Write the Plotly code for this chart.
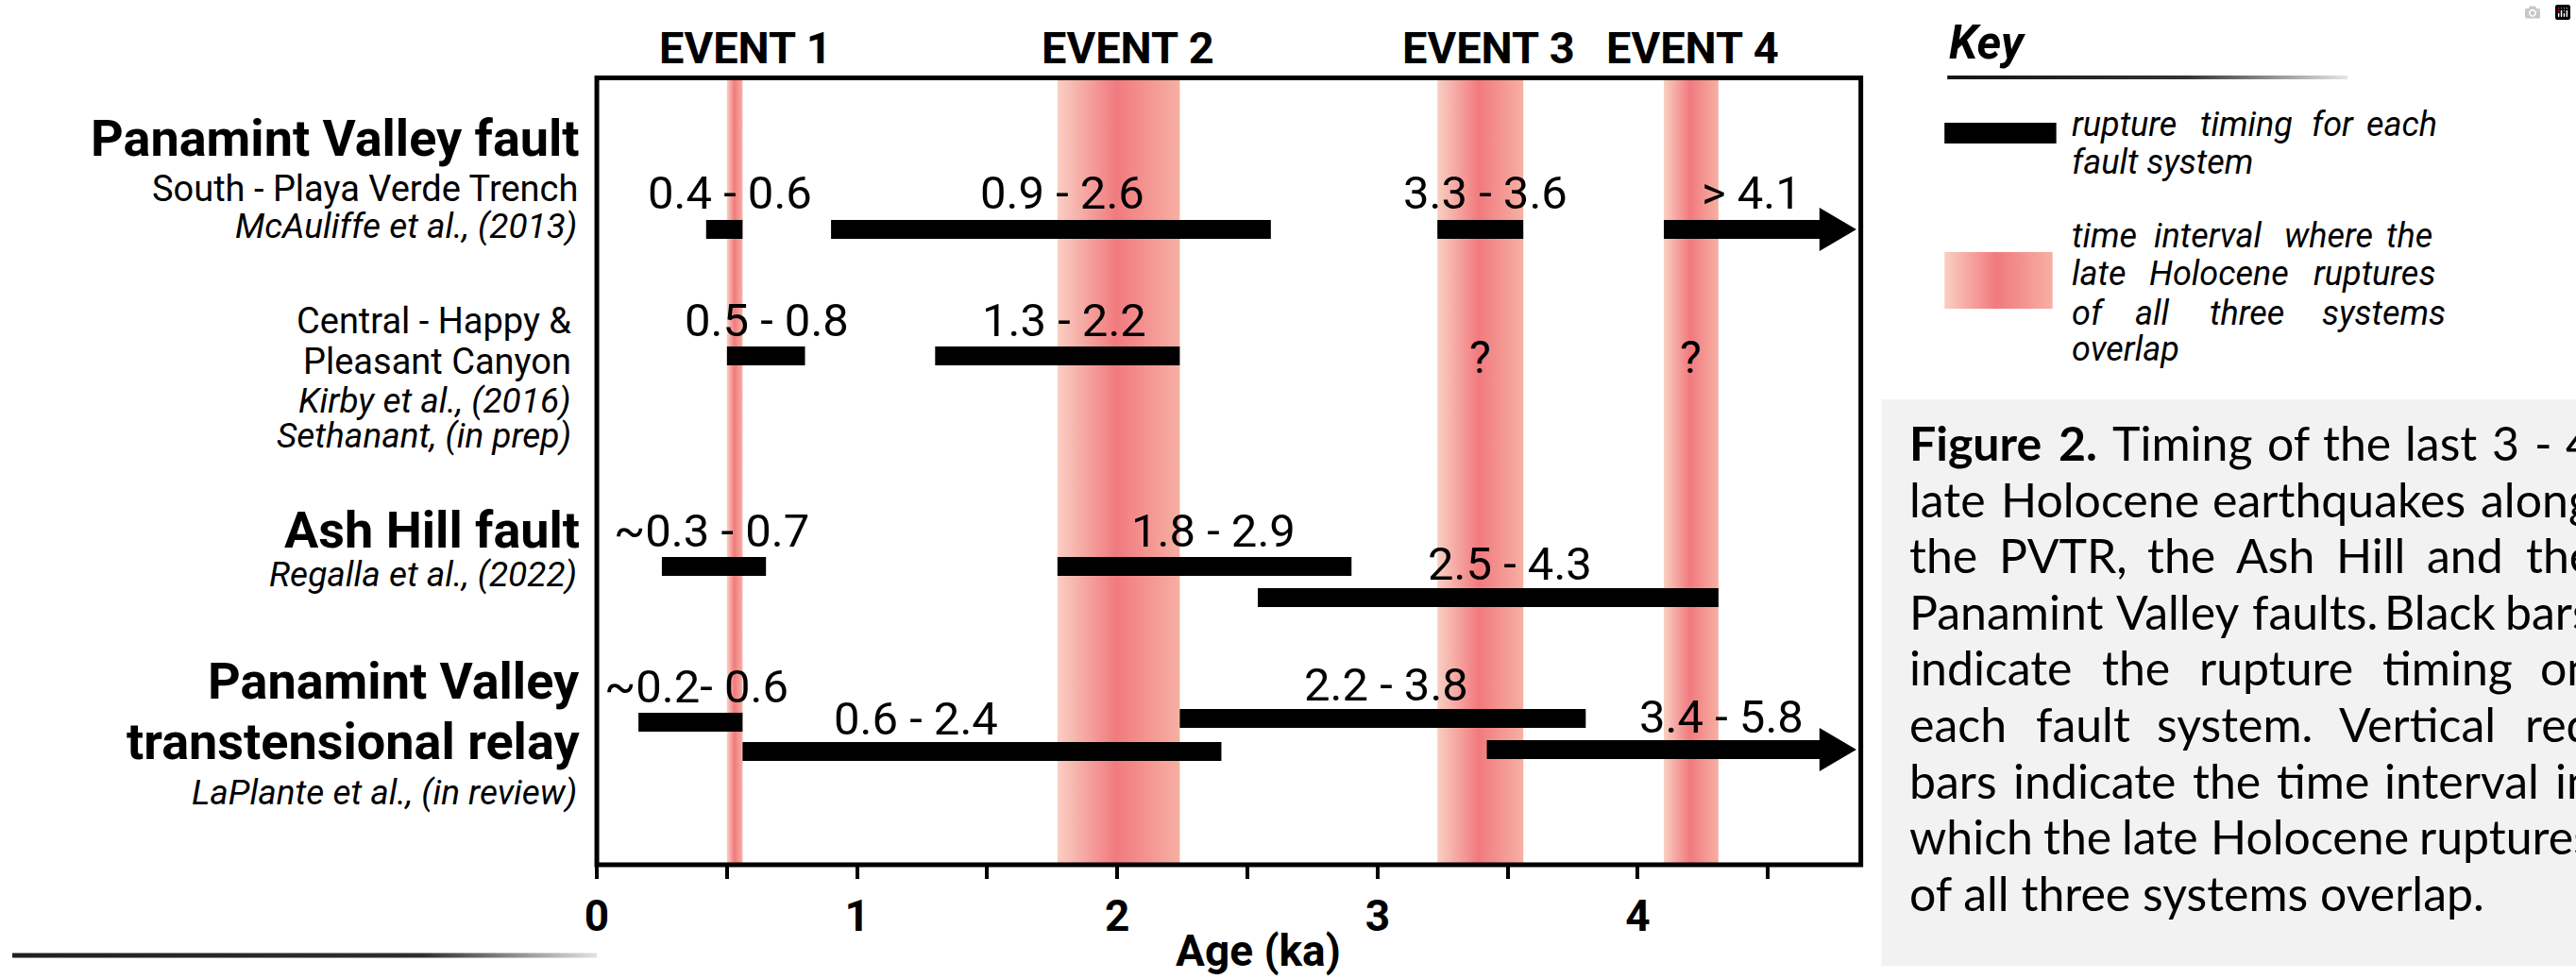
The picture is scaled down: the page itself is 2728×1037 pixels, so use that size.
import plotly.graph_objects as go

# ---------------- data ----------------
events = ["EVENT 1", "EVENT 2", "EVENT 3", "EVENT 4"]
event_start = [0.50, 1.77, 3.23, 4.10]
event_end = [0.56, 2.24, 3.56, 4.31]

rupture_label = ["0.4 - 0.6", "0.9 - 2.6", "3.3 - 3.6", "> 4.1",
                 "0.5 - 0.8", "1.3 - 2.2",
                 "~0.3 - 0.7", "1.8 - 2.9", "2.5 - 4.3",
                 "~0.2- 0.6", "0.6 - 2.4", "2.2 - 3.8", "3.4 - 5.8"]
rupture_start = [0.42, 0.90, 3.23, 4.10, 0.50, 1.30, 0.25, 1.77, 2.54, 0.16, 0.56, 2.24, 3.42]
rupture_end = [0.56, 2.59, 3.56, None, 0.80, 2.24, 0.65, 2.90, 4.31, 0.56, 2.40, 3.80, None]
unknown_event = ["EVENT 3", "EVENT 4"]          # "?" on the central Panamint Valley row

row_labels = ["Panamint Valley fault", "South - Playa Verde Trench", "McAuliffe et al., (2013)",
              "Central - Happy &", "Pleasant Canyon", "Kirby et al., (2016)", "Sethanant, (in prep)",
              "Ash Hill fault", "Regalla et al., (2022)",
              "Panamint Valley", "transtensional relay", "LaPlante et al., (in review)"]

x_ticks = [0, 0.5, 1, 1.5, 2, 2.5, 3, 3.5, 4, 4.5]
x_ticktext = ["0", "", "1", "", "2", "", "3", "", "4", ""]
x_title = "Age (ka)"

key_title = "Key"
key_lines = [["rupture", "timing", "for", "each"], ["fault system"],
             ["time", "interval", "where", "the"], ["late", "Holocene", "ruptures"],
             ["of", "all", "three", "systems"], ["overlap"]]
caption_lines = ["Figure 2. Timing of the last 3 - 4",
                 "late Holocene earthquakes along",
                 "the PVTR, the Ash Hill and the",
                 "Panamint Valley faults. Black bars",
                 "indicate the rupture timing on",
                 "each fault system. Vertical red",
                 "bars indicate the time interval in",
                 "which the late Holocene ruptures",
                 "of all three systems overlap."]

# ---------------- layout / positions ----------------
W, H = 2728, 1037
PX0, PX1 = 622.0, 1967.0
PY0, PY1 = 82.5, 916.0
X_MAX = 4.857
BAR_HALF = 10
ARROW_TIP, ARROW_HEAD_LEN, ARROW_HALF = 4.84, 0.142, 23
lane_y = [243, 243, 243, 243, 377, 377, 600, 600, 633, 765, 796, 761, 794]
label_x = [0.513, 1.79, 3.416, 4.438, 0.652, 1.796, 0.44, 2.37, 3.507, 0.383, 1.227, 3.032, 4.323]
label_base = [222, 222, 222, 222, 357, 357, 580, 580, 615, 745, 779, 743, 777]
unknown_base = 396
event_label_x = [0.573, 2.04, 3.426, 4.209]
event_label_base = 68
row_style = [("bold", "normal", 54, 605, 166), ("normal", "normal", 38, 603, 214),
             ("normal", "italic", 37, 602, 253), ("normal", "normal", 38, 596, 354),
             ("normal", "normal", 38, 596, 397), ("normal", "italic", 37, 596, 438),
             ("normal", "italic", 37, 596, 475), ("bold", "normal", 54, 605, 581),
             ("normal", "italic", 37, 602, 622), ("bold", "normal", 54, 605, 741),
             ("bold", "normal", 54, 605, 805), ("normal", "italic", 37, 602, 853)]
key_base = [145, 185, 263, 303, 345, 383]
key_x = [[2190, 2327, 2446, 2504], [2190], [2190, 2278, 2417, 2525], [2190, 2273, 2448],
         [2190, 2258, 2337, 2457], [2190]]
CAP_L, CAP_R, CAP_SIZE = 2018, 2745, 50
cap_base = [489.5, 549, 608.6, 668.2, 727.8, 787.4, 847, 906.6, 966.2]

FONT = "Roboto"
CAP_FONT = "Lato"
DESC = {"Roboto": 0.244, "Lato": 0.213}
BAND_CS = [[0, "#f9cfc2"], [0.48, "#f17a7e"], [1, "#f6b0a3"]]

# approximate Lato advance widths (em) used to justify the caption lines
LATO_W = dict(a=.52, b=.56, c=.47, d=.56, e=.53, f=.32, g=.5, h=.56, i=.24, j=.24, k=.5,
              l=.24, m=.84, n=.56, o=.56, p=.56, q=.56, r=.36, s=.42, t=.34, u=.56, v=.5,
              w=.76, x=.49, y=.5, z=.45, A=.68, B=.64, C=.66, D=.74, E=.56, F=.55, G=.72,
              H=.75, I=.28, P=.6, R=.63, T=.58, V=.66)
LATO_W.update({".": .22, ",": .22, "-": .35, " ": .193})
for d_ in "0123456789":
    LATO_W[d_] = .58


def lato_width(word, size, bold=False):
    return sum(LATO_W.get(c, .55) for c in word) * size * (1.04 if bold else 1.0)


fig = go.Figure()

# red overlap bands (horizontal gradient)
for s, e in zip(event_start, event_end):
    fig.add_trace(go.Scatter(x=[s, e, e, s, s], y=[PY0, PY0, PY1, PY1, PY0], mode="lines",
                             line=dict(width=0), fill="toself",
                             fillgradient=dict(type="horizontal", colorscale=BAND_CS),
                             hoverinfo="skip", xaxis="x", yaxis="y"))

# black rupture bars (and arrows for open-ended ranges)
bx, by = [], []
for s, e, yl in zip(rupture_start, rupture_end, lane_y):
    x1 = e if e is not None else ARROW_TIP - ARROW_HEAD_LEN
    bx += [s, x1, x1, s, s, None]
    by += [yl - BAR_HALF, yl - BAR_HALF, yl + BAR_HALF, yl + BAR_HALF, yl - BAR_HALF, None]
    if e is None:
        hb = ARROW_TIP - ARROW_HEAD_LEN
        bx += [hb, ARROW_TIP, hb, hb, None]
        by += [yl - ARROW_HALF, yl, yl + ARROW_HALF, yl - ARROW_HALF, None]
fig.add_trace(go.Scatter(x=bx, y=by, mode="lines", line=dict(width=0, color="black"),
                         fill="toself", fillcolor="black", hoverinfo="skip",
                         xaxis="x", yaxis="y"))


# decorative items in pixel space (x2/y2)
def grad_rect(x0, x1, y0, y1, cs):
    fig.add_trace(go.Scatter(x=[x0, x1, x1, x0, x0], y=[y0, y0, y1, y1, y0], mode="lines",
                             line=dict(width=0), fill="toself",
                             fillgradient=dict(type="horizontal", colorscale=cs),
                             hoverinfo="skip", xaxis="x2", yaxis="y2"))


grad_rect(0, 622, 1009.5, 1014.5, [[0, "#231f20"], [0.7, "#2e2e2e"], [1, "#e2e2e2"]])
grad_rect(2059, 2485, 80, 84, [[0, "#151515"], [0.6, "#333333"], [1, "#e6e6e6"]])
grad_rect(2056, 2171, 267, 327, BAND_CS)

shapes = [
    dict(type="rect", xref="x2", yref="y2", x0=1989, x1=2728, y0=423, y1=1023,
         fillcolor="#f2f2f2", line=dict(width=0), layer="below"),
    dict(type="rect", xref="x2", yref="y2", x0=2056, x1=2175, y0=130, y1=152,
         fillcolor="black", line=dict(width=0)),
    dict(type="rect", xref="x2", yref="y2", x0=PX0, x1=PX1, y0=PY0, y1=PY1,
         fillcolor="rgba(0,0,0,0)", line=dict(width=5, color="black"), layer="above"),
]


def txt(text, x, base, size, xref="x2", yref="y2", xanchor="center", weight="normal",
        style="normal", family=FONT):
    return dict(text=text, x=x, y=base + DESC[family] * size, xref=xref, yref=yref,
                xanchor=xanchor, yanchor="bottom", showarrow=False, borderpad=0,
                font=dict(family=family, size=size, color="black", weight=weight, style=style))


ann = []
for lab, lx, lb in zip(rupture_label, label_x, label_base):
    ann.append(txt(lab, lx, lb, 49, xref="x", yref="y"))
for ev in unknown_event:
    i = events.index(ev)
    ann.append(txt("?", (event_start[i] + event_end[i]) / 2, unknown_base, 48, xref="x", yref="y"))
for ev, ex in zip(events, event_label_x):
    ann.append(txt(ev, ex, event_label_base, 47, xref="x", yref="y2", weight="bold"))
for lab, (wt, st, sz, rx, bl) in zip(row_labels, row_style):
    ann.append(txt(lab, rx, bl, sz, xanchor="right", weight=wt, style=st))
ann.append(txt(x_title, 1325.5, 1024, 46, weight="bold"))
ann.append(txt(key_title, 2060, 63, 49, xanchor="left", weight="bold", style="italic"))
for words, xs, bl in zip(key_lines, key_x, key_base):
    for w_, x_ in zip(words, xs):
        ann.append(txt(w_, x_, bl, 36, xanchor="left", style="italic"))

# justified caption (last line left-aligned)
for li, (line, bl) in enumerate(zip(caption_lines, cap_base)):
    if li == len(caption_lines) - 1:
        ann.append(txt(line, CAP_L, bl, CAP_SIZE, xanchor="left", family=CAP_FONT))
        continue
    words = line.split(" ")
    bolds = [li == 0 and wi < 2 for wi in range(len(words))]
    widths = [lato_width(w_, CAP_SIZE, b_) for w_, b_ in zip(words, bolds)]
    gap = (CAP_R - CAP_L - sum(widths)) / (len(words) - 1)
    x_ = CAP_L
    for w_, b_, wd in zip(words, bolds, widths):
        ann.append(txt(w_, x_, bl, CAP_SIZE, xanchor="left",
                       weight="bold" if b_ else "normal", family=CAP_FONT))
        x_ += wd + gap

fig.update_layout(
    width=W, height=H, margin=dict(l=0, r=0, t=0, b=0),
    paper_bgcolor="white", plot_bgcolor="rgba(0,0,0,0)", showlegend=False,
    xaxis=dict(domain=[PX0 / W, PX1 / W], range=[0, X_MAX], anchor="y", showgrid=False,
               zeroline=False, showline=False, ticks="outside", ticklen=14, tickwidth=4,
               tickcolor="black", tickvals=x_ticks, ticktext=x_ticktext,
               tickfont=dict(family=FONT, size=46, weight="bold", color="black"),
               fixedrange=True),
    yaxis=dict(domain=[1 - PY1 / H, 1 - PY0 / H], range=[PY1, PY0], anchor="x",
               visible=False, fixedrange=True),
    xaxis2=dict(domain=[0, 1], range=[0, W], anchor="y2", visible=False, fixedrange=True),
    yaxis2=dict(domain=[0, 1], range=[H, 0], anchor="x2", visible=False, fixedrange=True),
    shapes=shapes, annotations=ann,
)

fig.write_html("out.html", post_script="document.body.style.margin='0px';")
